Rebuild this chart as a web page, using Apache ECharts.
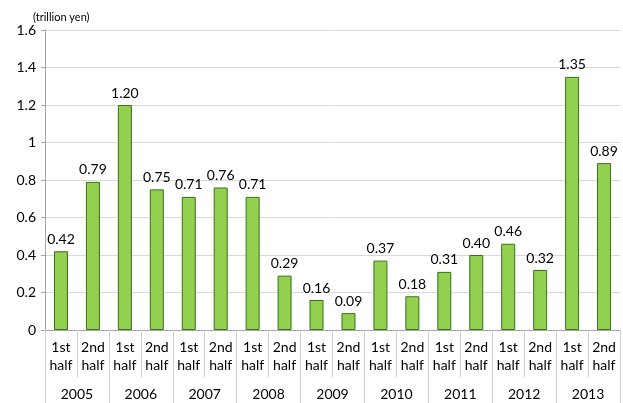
<!DOCTYPE html>
<html><head><meta charset="utf-8">
<script src="https://cdn.jsdelivr.net/npm/echarts@6/dist/echarts.min.js"></script>
<style>html,body{margin:0;padding:0;background:#fff}#c{width:623px;height:403px}</style>
</head><body><div id="c"></div>
<script>
const halves = ["1st\nhalf","2nd\nhalf","1st\nhalf","2nd\nhalf","1st\nhalf","2nd\nhalf","1st\nhalf","2nd\nhalf","1st\nhalf","2nd\nhalf","1st\nhalf","2nd\nhalf","1st\nhalf","2nd\nhalf","1st\nhalf","2nd\nhalf","1st\nhalf","2nd\nhalf"];
const years = ["2005","2006","2007","2008","2009","2010","2011","2012","2013"];
const values = [0.42,0.79,1.20,0.75,0.71,0.76,0.71,0.29,0.16,0.09,0.37,0.18,0.31,0.40,0.46,0.32,1.35,0.89];
const yTicks = {min:0, max:1.6, interval:0.2};
const unitLabel = "(trillion yen)";
const font = "Lato, 'Open Sans', sans-serif";
const chart = echarts.init(document.getElementById('c'));
chart.setOption({
  animation:false,
  textStyle:{fontFamily:font},
  graphic:[{type:'text',left:33,top:12,style:{text:unitLabel,font:"11px "+font,fill:'#000'}}],
  grid:{left:45,right:3,top:30,bottom:73,containLabel:false},
  xAxis:[{
    type:'category',data:halves,position:'bottom',
    axisLine:{show:true,lineStyle:{color:'#a6a6a6'}},
    axisTick:{show:true,length:47,lineStyle:{color:'#d0d0d0'}},
    axisLabel:{interval:0,margin:8,fontSize:14,lineHeight:18,color:'#000',fontFamily:font}
  },{
    type:'category',data:years,position:'bottom',
    axisLine:{show:false},
    axisTick:{show:true,length:75,lineStyle:{color:'#d0d0d0'}},
    axisLabel:{interval:0,margin:57,fontSize:14,color:'#000',fontFamily:font}
  }],
  yAxis:{type:'value',min:yTicks.min,max:yTicks.max,interval:yTicks.interval,
    axisLine:{show:true,lineStyle:{color:'#a6a6a6'}},
    axisTick:{show:true,length:4,lineStyle:{color:'#a6a6a6'}},
    splitLine:{lineStyle:{color:'#d9d9d9'}},
    axisLabel:{fontSize:14,color:'#000',margin:9,fontFamily:font}
  },
  series:[{type:'bar',data:values,xAxisIndex:0,barWidth:14,
    itemStyle:{color:'#92d050',borderColor:'#3c6e1e',borderWidth:1},
    label:{show:true,position:'top',distance:5,fontSize:14,color:'#000',fontFamily:font,
      formatter:p=>p.value.toFixed(2)}
  }]
});
</script></body></html>
